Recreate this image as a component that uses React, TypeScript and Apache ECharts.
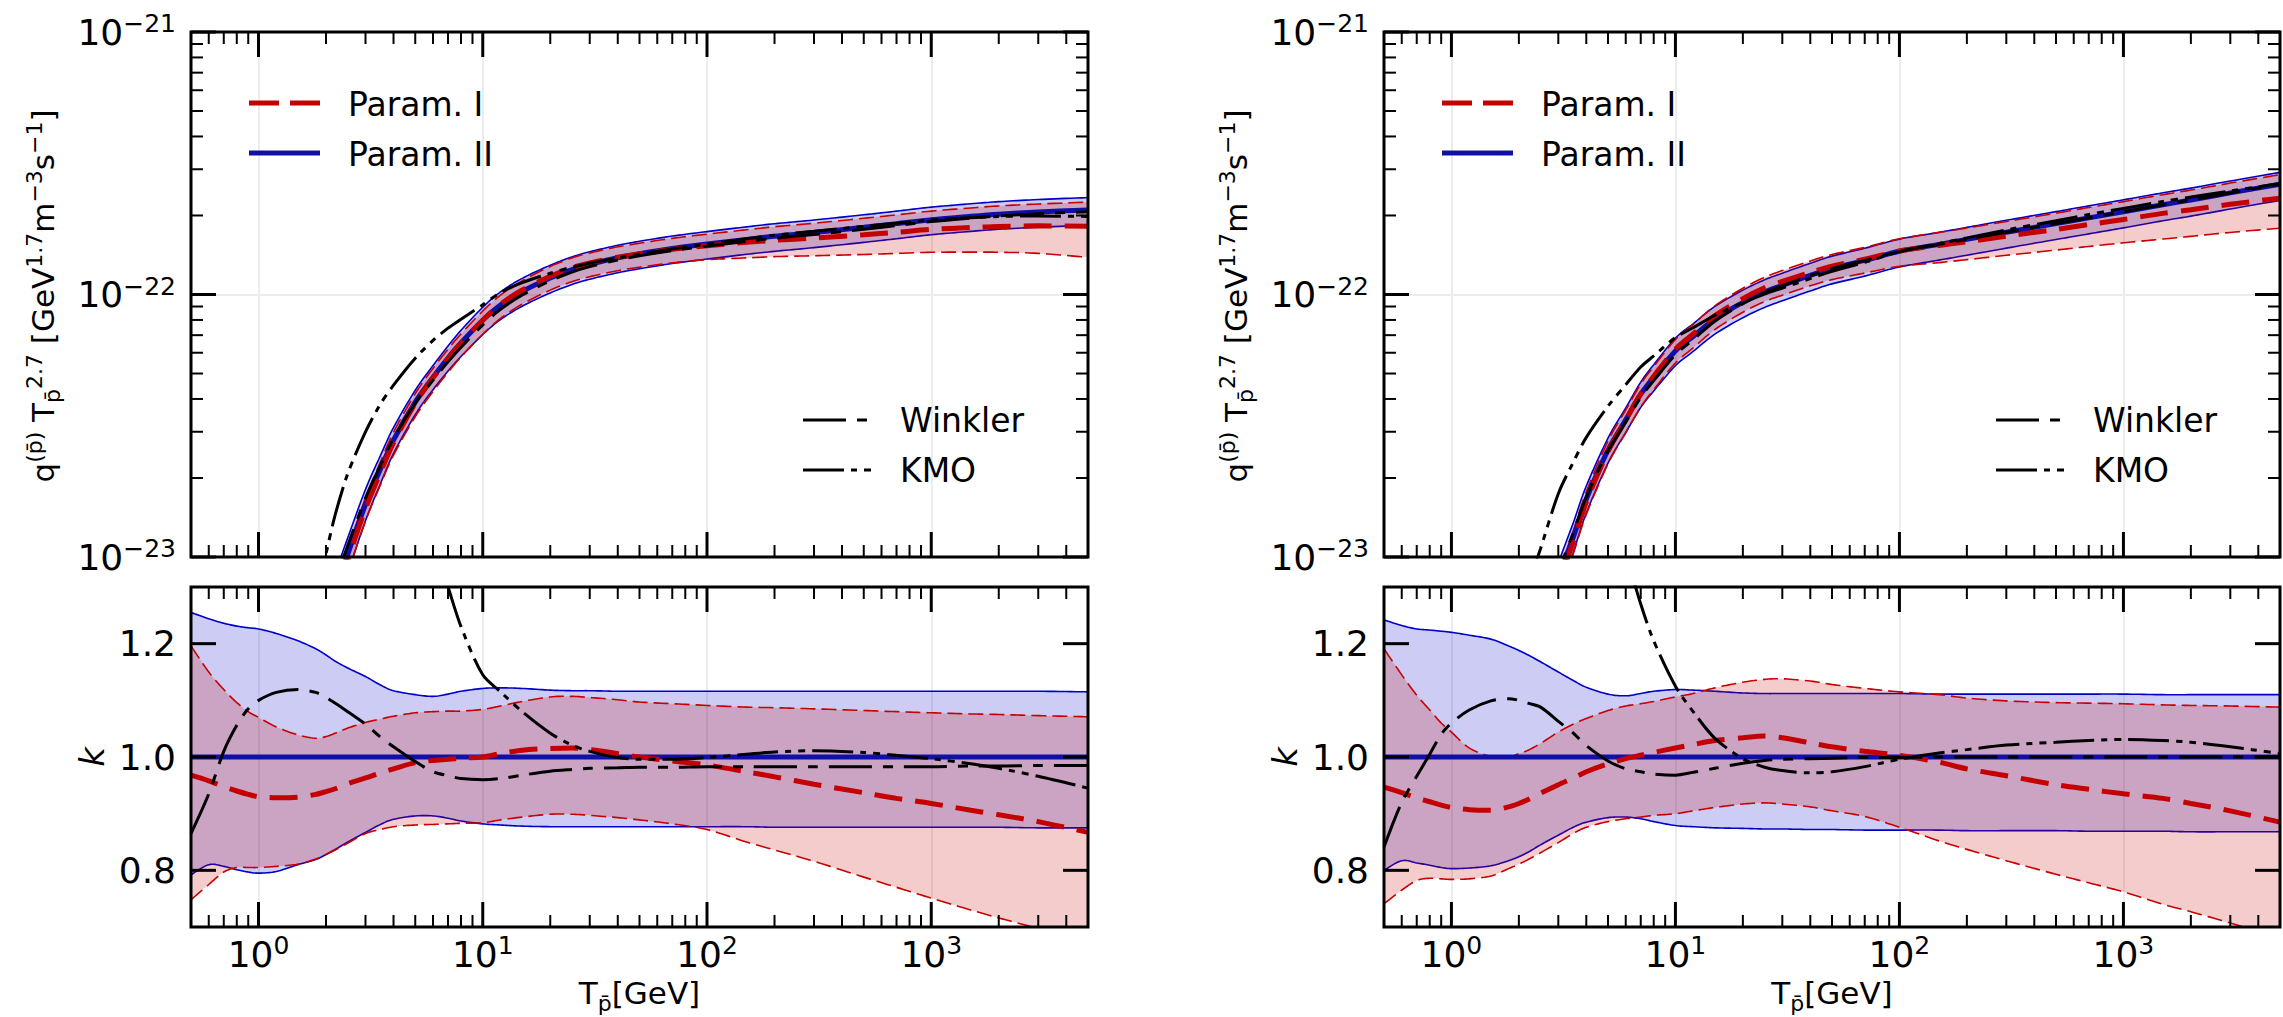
import React, { useEffect, useRef } from "react";
import * as echarts from "echarts";

type N = number | null;

// Kinetic energy grid T_pbar [GeV]
const X: number[] = [0.5, 0.6, 0.7, 0.8, 0.9, 1, 1.2, 1.5, 1.8, 2, 2.2, 2.5, 3, 3.5, 4, 5, 6, 7, 8, 10, 12, 15, 20, 25, 30, 40, 50, 70, 100, 150, 200, 300, 500, 700, 1000, 1500, 2000, 3000, 5000];

// Param. II central source term, units of 1e-22 GeV^1.7 m^-3 s^-1
const centralLeft: N[] = [null, null, null, null, null, null, null, null, 0.043, 0.0585, 0.0745, 0.1023, 0.1585, 0.2163, 0.2786, 0.389, 0.4842, 0.5728, 0.6546, 0.798, 0.912, 1.028, 1.156, 1.245, 1.303, 1.38, 1.429, 1.496, 1.556, 1.622, 1.667, 1.722, 1.803, 1.862, 1.928, 1.986, 2.023, 2.061, 2.099];
const centralRight: N[] = [null, null, null, null, null, null, null, null, null, null, 0.0355, 0.0501, 0.0822, 0.119, 0.166, 0.2553, 0.3334, 0.4169, 0.4842, 0.6095, 0.6918, 0.8072, 0.9333, 1.023, 1.084, 1.183, 1.259, 1.349, 1.462, 1.552, 1.622, 1.726, 1.862, 1.959, 2.065, 2.198, 2.291, 2.438, 2.63];

// Ratios k relative to Param. II (left panel)
const blueUpL: N[] = [1.255, 1.244, 1.236, 1.231, 1.228, 1.226, 1.218, 1.205, 1.191, 1.18, 1.169, 1.157, 1.142, 1.127, 1.117, 1.11, 1.107, 1.111, 1.116, 1.121, 1.122, 1.121, 1.118, 1.117, 1.117, 1.116, 1.116, 1.116, 1.116, 1.116, 1.116, 1.116, 1.116, 1.116, 1.116, 1.116, 1.116, 1.116, 1.115];
const blueLoL: N[] = [0.792, 0.81, 0.807, 0.801, 0.797, 0.795, 0.798, 0.81, 0.819, 0.828, 0.837, 0.85, 0.867, 0.881, 0.89, 0.896, 0.896, 0.892, 0.887, 0.882, 0.88, 0.878, 0.877, 0.877, 0.877, 0.877, 0.877, 0.877, 0.877, 0.877, 0.876, 0.876, 0.876, 0.876, 0.876, 0.876, 0.876, 0.875, 0.875];
const redUpL: N[] = [1.196, 1.15, 1.119, 1.096, 1.08, 1.07, 1.053, 1.039, 1.033, 1.036, 1.042, 1.051, 1.061, 1.067, 1.072, 1.078, 1.08, 1.081, 1.081, 1.084, 1.09, 1.098, 1.106, 1.107, 1.105, 1.101, 1.097, 1.094, 1.091, 1.088, 1.087, 1.085, 1.082, 1.08, 1.078, 1.076, 1.075, 1.073, 1.071];
const redMidL: N[] = [0.968, 0.958, 0.948, 0.94, 0.934, 0.93, 0.928, 0.929, 0.934, 0.939, 0.944, 0.953, 0.963, 0.972, 0.979, 0.99, 0.994, 0.996, 0.998, 1.0, 1.006, 1.012, 1.015, 1.016, 1.013, 1.006, 1.0, 0.993, 0.986, 0.974, 0.965, 0.952, 0.937, 0.927, 0.918, 0.906, 0.898, 0.886, 0.867];
const redLoL: N[] = [0.748, 0.775, 0.797, 0.805, 0.805, 0.805, 0.807, 0.811, 0.82, 0.828, 0.836, 0.848, 0.865, 0.872, 0.877, 0.88, 0.881, 0.882, 0.883, 0.884, 0.889, 0.894, 0.899, 0.899, 0.897, 0.893, 0.889, 0.882, 0.872, 0.85, 0.836, 0.816, 0.788, 0.77, 0.751, 0.73, 0.716, 0.696, 0.66];
const winklerL: N[] = [0.865, 0.935, 1.01, 1.056, 1.085, 1.1, 1.114, 1.119, 1.114, 1.105, 1.095, 1.08, 1.058, 1.035, 1.018, 0.992, 0.974, 0.967, 0.962, 0.96, 0.962, 0.968, 0.975, 0.978, 0.98, 0.981, 0.982, 0.982, 0.983, 0.983, 0.983, 0.983, 0.983, 0.983, 0.983, 0.984, 0.984, 0.985, 0.985];
const kmoL: N[] = [null, null, null, null, null, null, null, null, 1.6, 1.76, 1.95, 2.03, 1.89, 1.77, 1.62, 1.47, 1.38, 1.3, 1.23, 1.145, 1.115, 1.08, 1.042, 1.021, 1.01, 0.999, 0.996, 0.996, 0.999, 1.005, 1.009, 1.011, 1.008, 1.003, 0.997, 0.988, 0.98, 0.966, 0.945];

// Ratios k relative to Param. II (right panel)
const blueUpR: N[] = [1.242, 1.232, 1.226, 1.224, 1.222, 1.22, 1.215, 1.208, 1.196, 1.188, 1.18, 1.168, 1.15, 1.135, 1.123, 1.111, 1.108, 1.112, 1.116, 1.119, 1.118, 1.116, 1.113, 1.112, 1.112, 1.112, 1.112, 1.112, 1.112, 1.111, 1.111, 1.111, 1.111, 1.111, 1.111, 1.11, 1.11, 1.11, 1.11];
const blueLoR: N[] = [0.8, 0.817, 0.813, 0.809, 0.805, 0.803, 0.804, 0.808, 0.817, 0.824, 0.832, 0.845, 0.862, 0.876, 0.885, 0.893, 0.894, 0.891, 0.886, 0.879, 0.877, 0.875, 0.874, 0.873, 0.873, 0.872, 0.872, 0.871, 0.871, 0.871, 0.87, 0.87, 0.87, 0.869, 0.869, 0.869, 0.868, 0.868, 0.868];
const redUpR: N[] = [1.191, 1.145, 1.109, 1.083, 1.06, 1.044, 1.016, 1.001, 1.0, 1.006, 1.012, 1.024, 1.044, 1.058, 1.068, 1.082, 1.09, 1.094, 1.098, 1.106, 1.112, 1.122, 1.132, 1.137, 1.138, 1.134, 1.128, 1.121, 1.115, 1.11, 1.104, 1.099, 1.096, 1.095, 1.094, 1.092, 1.091, 1.09, 1.088];
const redMidR: N[] = [0.947, 0.937, 0.928, 0.921, 0.915, 0.911, 0.907, 0.906, 0.912, 0.918, 0.925, 0.936, 0.951, 0.963, 0.974, 0.988, 0.997, 1.003, 1.008, 1.016, 1.022, 1.029, 1.034, 1.037, 1.034, 1.025, 1.018, 1.01, 1.003, 0.991, 0.979, 0.967, 0.951, 0.943, 0.935, 0.927, 0.918, 0.905, 0.885];
const redLoR: N[] = [0.741, 0.765, 0.782, 0.786, 0.785, 0.784, 0.785, 0.79, 0.803, 0.811, 0.819, 0.831, 0.849, 0.865, 0.876, 0.886, 0.891, 0.894, 0.897, 0.9, 0.905, 0.911, 0.917, 0.919, 0.917, 0.912, 0.905, 0.895, 0.876, 0.852, 0.837, 0.817, 0.793, 0.778, 0.762, 0.74, 0.727, 0.707, 0.68];
const winklerR: N[] = [0.841, 0.92, 0.966, 1.005, 1.04, 1.06, 1.083, 1.099, 1.103, 1.1, 1.095, 1.088, 1.063, 1.042, 1.02, 0.993, 0.979, 0.974, 0.97, 0.968, 0.973, 0.98, 0.989, 0.994, 0.996, 0.997, 0.998, 0.999, 0.999, 1.0, 1.0, 1.0, 1.0, 1.0, 1.0, 1.0, 1.0, 1.0, 1.0];
const kmoR: N[] = [null, null, null, null, null, null, null, null, null, null, 2.2, 2.15, 2.12, 1.93, 1.72, 1.47, 1.36, 1.27, 1.205, 1.125, 1.08, 1.033, 0.997, 0.982, 0.976, 0.972, 0.974, 0.983, 0.996, 1.007, 1.013, 1.021, 1.026, 1.029, 1.031, 1.029, 1.026, 1.018, 1.006];

// Axis ticks
const xMajorTicks = [1, 10, 100, 1000];
const xMinorTicks = [0.6, 0.7, 0.8, 0.9, 2, 3, 4, 5, 6, 7, 8, 9, 20, 30, 40, 50, 60, 70, 80, 90, 200, 300, 400, 500, 600, 700, 800, 900, 2000, 3000, 4000];
const qMajorTicks = [1e-23, 1e-22, 1e-21];
const qMajorExponents = [-23, -22, -21];
const qMinorTicks = [2e-23, 3e-23, 4e-23, 5e-23, 6e-23, 7e-23, 8e-23, 9e-23, 2e-22, 3e-22, 4e-22, 5e-22, 6e-22, 7e-22, 8e-22, 9e-22];
const kMajorTicks = [0.8, 1.0, 1.2];

const FONT = "'DejaVu Sans', sans-serif";
const RED = "#c40000";
const BLUE = "#1010a8";
const WINKLER_DASH = [43, 11, 10, 11];
const KMO_DASH = [41, 7, 6, 7, 7, 7];

function catmull(pts: number[][], n = 10): number[][] {
  if (pts.length < 3) return pts;
  const out: number[][] = [];
  for (let i = 0; i < pts.length - 1; i++) {
    const p0 = pts[Math.max(0, i - 1)];
    const p1 = pts[i];
    const p2 = pts[i + 1];
    const p3 = pts[Math.min(pts.length - 1, i + 2)];
    for (let j = 0; j < n; j++) {
      const t = j / n, t2 = t * t, t3 = t2 * t;
      const f = (a: number, b: number, c: number, d: number) =>
        0.5 * (2 * b + (-a + c) * t + (2 * a - 5 * b + 4 * c - d) * t2 + (-a + 3 * b - 3 * c + d) * t3);
      out.push([f(p0[0], p1[0], p2[0], p3[0]), f(p0[1], p1[1], p2[1], p3[1])]);
    }
  }
  out.push(pts[pts.length - 1]);
  return out;
}

function scaled(C: N[] | null, r: N[] | number): number[][] {
  const out: number[][] = [];
  X.forEach((x, i) => {
    const k = typeof r === "number" ? r : r[i];
    if (k == null) return;
    if (C) {
      const c = C[i];
      if (c == null) return;
      out.push([x, c * k * 1e-22]);
    } else out.push([x, k]);
  });
  return out;
}

function bandData(C: N[] | null, lo: N[], hi: N[]): number[][] {
  const out: number[][] = [];
  X.forEach((x, i) => {
    const a = lo[i], b = hi[i];
    if (a == null || b == null) return;
    if (C) {
      const c = C[i];
      if (c == null) return;
      out.push([x, c * a * 1e-22, c * b * 1e-22]);
    } else out.push([x, a, b]);
  });
  return out;
}

function bandSeries(idx: number, pts: number[][], fill: string, edge: string, dash: number[] | null) {
  return {
    type: "custom",
    xAxisIndex: idx,
    yAxisIndex: idx,
    silent: true,
    clip: true,
    z: 2,
    data: pts,
    encode: { x: 0, y: [1, 2] },
    renderItem: (params: any, api: any) => {
      if (params.dataIndex !== 0) return null;
      const cs = params.coordSys;
      const U = catmull(pts.map((p) => api.coord([p[0], p[2]])));
      const L = catmull(pts.map((p) => api.coord([p[0], p[1]])));
      const edgeStyle: any = { stroke: edge, lineWidth: 1.6, fill: "none" };
      if (dash) edgeStyle.lineDash = dash;
      return {
        type: "group",
        clipPath: { type: "rect", shape: { x: cs.x, y: cs.y, width: cs.width, height: cs.height } },
        children: [
          { type: "polygon", shape: { points: U.concat(L.slice().reverse()) }, style: { fill, stroke: "none" } },
          { type: "polyline", shape: { points: U }, style: edgeStyle },
          { type: "polyline", shape: { points: L }, style: { ...edgeStyle } },
        ],
      };
    },
  };
}

function lineSeries(idx: number, data: number[][], color: string, width: number, type: any) {
  return {
    type: "line",
    xAxisIndex: idx,
    yAxisIndex: idx,
    data,
    silent: true,
    clip: true,
    symbol: "none",
    showSymbol: false,
    smooth: 0.3,
    z: 3,
    lineStyle: { color, width, type, cap: "butt" },
  };
}

const graphicTickRich = {
  b: { fontSize: 36, lineHeight: 42, fontFamily: FONT, fill: "#000" },
  s: { fontSize: 25, lineHeight: 25, verticalAlign: "top", fontFamily: FONT, fill: "#000" },
};

function frameSeries(idx: number, isTop: boolean) {
  const yRef = isTop ? 1e-22 : 1;
  const yMajor = isTop ? qMajorTicks : kMajorTicks;
  const yMinor = isTop ? qMinorTicks : [];
  return {
    type: "custom",
    xAxisIndex: idx,
    yAxisIndex: idx,
    silent: true,
    clip: false,
    z: 20,
    data: [[1, yRef]],
    renderItem: (params: any, api: any) => {
      const cs = params.coordSys;
      const x0 = cs.x, y0 = cs.y, x1 = cs.x + cs.width, y1 = cs.y + cs.height;
      const children: any[] = [];
      const seg = (ax: number, ay: number, bx: number, by: number, w: number) =>
        children.push({ type: "line", shape: { x1: ax, y1: ay, x2: bx, y2: by }, style: { stroke: "#000", lineWidth: w } });
      xMajorTicks.forEach((v) => {
        const px = api.coord([v, yRef])[0];
        seg(px, y1, px, y1 - 25, 3);
        seg(px, y0, px, y0 + 25, 3);
      });
      xMinorTicks.forEach((v) => {
        const px = api.coord([v, yRef])[0];
        seg(px, y1, px, y1 - 12, 2);
        seg(px, y0, px, y0 + 12, 2);
      });
      yMajor.forEach((v) => {
        const py = api.coord([1, v])[1];
        seg(x0, py, x0 + 25, py, 3);
        seg(x1, py, x1 - 25, py, 3);
      });
      yMinor.forEach((v) => {
        const py = api.coord([1, v])[1];
        seg(x0, py, x0 + 12, py, 2);
        seg(x1, py, x1 - 12, py, 2);
      });
      if (isTop) {
        qMajorTicks.forEach((v, i) => {
          const py = api.coord([1, v])[1];
          children.push({
            type: "text",
            x: x0 - 15,
            y: py,
            style: {
              text: `{b|10}{s|\u2212${-qMajorExponents[i]}}`,
              align: "right",
              verticalAlign: "middle",
              rich: graphicTickRich,
            },
          });
        });
      }
      children.push({
        type: "rect",
        shape: { x: x0, y: y0, width: cs.width, height: cs.height },
        style: { fill: "none", stroke: "#000", lineWidth: 3 },
      });
      return { type: "group", children };
    },
  };
}

const tickRich = {
  b: { fontSize: 36, lineHeight: 42, fontFamily: FONT, color: "#000" },
  s: { fontSize: 25, lineHeight: 25, verticalAlign: "top", fontFamily: FONT, color: "#000" },
};

function powFmt(v: number) {
  const l = Math.log10(v);
  const e = Math.round(l);
  if (Math.abs(l - e) > 1e-6) return "";
  return `{b|10}{s|${e < 0 ? "\u2212" + -e : e}}`;
}

const PANELS = [
  { top: 0, bot: 1, left: 191, width: 897, C: centralLeft, bUp: blueUpL, bLo: blueLoL, rUp: redUpL, rMid: redMidL, rLo: redLoL, w: winklerL, k: kmoL },
  { top: 2, bot: 3, left: 1384, width: 896, C: centralRight, bUp: blueUpR, bLo: blueLoR, rUp: redUpR, rMid: redMidR, rLo: redLoR, w: winklerR, k: kmoR },
];

function buildOption() {
  const grid: any[] = [];
  const xAxis: any[] = [];
  const yAxis: any[] = [];
  const series: any[] = [];
  const graphic: any[] = [];

  PANELS.forEach((p) => {
    grid[p.top] = { left: p.left, top: 32, width: p.width, height: 525, containLabel: false, outerBoundsMode: "none" };
    grid[p.bot] = { left: p.left, top: 587, width: p.width, height: 340, containLabel: false, outerBoundsMode: "none" };
    [p.top, p.bot].forEach((gi) => {
      const isBot = gi === p.bot;
      xAxis[gi] = {
        type: "log",
        logBase: 10,
        gridIndex: gi,
        min: 0.5,
        max: 5000,
        axisLine: { show: false },
        axisTick: { show: false },
        splitLine: { show: true, lineStyle: { color: "#ececec", width: 2 } },
        axisLabel: {
          show: isBot,
          margin: 6,
          showMinLabel: false,
          showMaxLabel: false,
          formatter: powFmt,
          rich: tickRich,
        },
      };
    });
    yAxis[p.top] = {
      type: "log",
      logBase: 10,
      gridIndex: p.top,
      min: 1e-23,
      max: 1e-21,
      axisLine: { show: false },
      axisTick: { show: false },
      splitLine: { show: true, lineStyle: { color: "#ececec", width: 2 } },
      axisLabel: { show: false },
    };
    yAxis[p.bot] = {
      type: "value",
      gridIndex: p.bot,
      min: 0.7,
      max: 1.3,
      interval: 0.1,
      axisLine: { show: false },
      axisTick: { show: false },
      splitLine: { show: false },
      axisLabel: {
        margin: 15,
        fontSize: 36,
        fontFamily: FONT,
        color: "#000",
        formatter: (v: number) => {
          const t = Math.round(v * 10);
          if (Math.abs(v * 10 - t) > 1e-6 || t % 2 !== 0) return "";
          return (t / 10).toFixed(1);
        },
      },
    };

    // top panel
    series.push(bandSeries(p.top, bandData(p.C, p.bLo, p.bUp), "rgba(0,0,200,0.2)", "#0000c8", null));
    series.push(bandSeries(p.top, bandData(p.C, p.rLo, p.rUp), "rgba(200,0,0,0.2)", "#c80000", [15, 6]));
    series.push(lineSeries(p.top, scaled(p.C, 1), BLUE, 5, "solid"));
    series.push(lineSeries(p.top, scaled(p.C, p.rMid), RED, 5, [28, 13]));
    series.push(lineSeries(p.top, scaled(p.C, p.w), "#000", 3, WINKLER_DASH));
    series.push(lineSeries(p.top, scaled(p.C, p.k), "#000", 3, KMO_DASH));
    series.push(frameSeries(p.top, true));

    // bottom panel
    series.push(bandSeries(p.bot, bandData(null, p.bLo, p.bUp), "rgba(0,0,200,0.2)", "#0000c8", null));
    series.push(bandSeries(p.bot, bandData(null, p.rLo, p.rUp), "rgba(200,0,0,0.2)", "#c80000", [15, 6]));
    series.push(lineSeries(p.bot, scaled(null, 1), BLUE, 5, "solid"));
    series.push(lineSeries(p.bot, scaled(null, p.rMid), RED, 5, [28, 13]));
    series.push(lineSeries(p.bot, scaled(null, p.w), "#000", 3, WINKLER_DASH));
    series.push(lineSeries(p.bot, scaled(null, p.k), "#000", 3, KMO_DASH));
    series.push(frameSeries(p.bot, false));

    const dx = p.left - 191;
    const legendText = (t: string, x: number, y: number) => ({
      type: "text",
      x,
      y,
      z: 50,
      style: { text: t, fontSize: 33, fontFamily: FONT, fill: "#000", align: "left", verticalAlign: "middle" },
    });
    const legendLine = (x1: number, y: number, x2: number, color: string, w: number, dash: number[] | null) => ({
      type: "line",
      z: 50,
      shape: { x1, y1: y, x2, y2: y },
      style: { stroke: color, lineWidth: w, lineDash: dash || undefined, lineCap: "butt" },
    });
    graphic.push(legendLine(249 + dx, 103, 320 + dx, RED, 5, [30, 11]));
    graphic.push(legendText("Param. I", 348 + dx, 104));
    graphic.push(legendLine(249 + dx, 153, 320 + dx, BLUE, 5, null));
    graphic.push(legendText("Param. II", 348 + dx, 154));
    graphic.push(legendLine(803 + dx, 420, 867 + dx, "#000", 3, [43, 11, 10, 30]));
    graphic.push(legendText("Winkler", 900 + dx, 420));
    graphic.push(legendLine(803 + dx, 470, 871 + dx, "#000", 3, [41, 7, 6, 7, 7, 30]));
    graphic.push(legendText("KMO", 900 + dx, 470));

    // y-axis title of the top panel
    graphic.push({
      type: "text",
      x: 43 + dx,
      y: 296,
      rotation: Math.PI / 2,
      z: 50,
      style: {
        text: "{m|q}{s|(p\u0304)}{m| T}{d|p\u0304}{s|2.7}{m| [GeV}{s|1.7}{m|m}{s|\u22123}{m|s}{s|\u22121}{m|]}",
        align: "center",
        verticalAlign: "middle",
        rich: {
          m: { fontSize: 31, lineHeight: 40, fontFamily: FONT, fill: "#000", color: "#000" },
          s: { fontSize: 22, lineHeight: 22, verticalAlign: "top", fontFamily: FONT, fill: "#000", color: "#000" },
          d: { fontSize: 22, lineHeight: 22, verticalAlign: "bottom", fontFamily: FONT, fill: "#000", color: "#000" },
        },
      },
    });
    // y-axis title of the bottom panel
    graphic.push({
      type: "text",
      x: 92 + dx,
      y: 757,
      rotation: Math.PI / 2,
      z: 50,
      style: { text: "k", fontSize: 34, fontStyle: "italic", fontFamily: FONT, fill: "#000", align: "center", verticalAlign: "middle" },
    });
    // x-axis title
    graphic.push({
      type: "text",
      x: p.left + p.width / 2,
      y: 993,
      z: 50,
      style: {
        text: "{m|T}{d|p\u0304}{m|[GeV]}",
        align: "center",
        verticalAlign: "middle",
        rich: {
          m: { fontSize: 31, lineHeight: 42, fontFamily: FONT, fill: "#000", color: "#000" },
          d: { fontSize: 22, lineHeight: 22, verticalAlign: "bottom", fontFamily: FONT, fill: "#000", color: "#000" },
        },
      },
    });
  });

  return {
    animation: false,
    backgroundColor: "#ffffff",
    grid,
    xAxis,
    yAxis,
    series,
    graphic,
  };
}

export default function App() {
  const ref = useRef<HTMLDivElement>(null);
  useEffect(() => {
    if (!ref.current) return;
    const chart = echarts.init(ref.current, null, { renderer: "svg" });
    chart.setOption(buildOption() as any);
    return () => chart.dispose();
  }, []);
  return (
    <div
      ref={ref}
      style={{ position: "absolute", left: 0, top: 0, width: 2283, height: 1017, background: "#fff" }}
    />
  );
}
